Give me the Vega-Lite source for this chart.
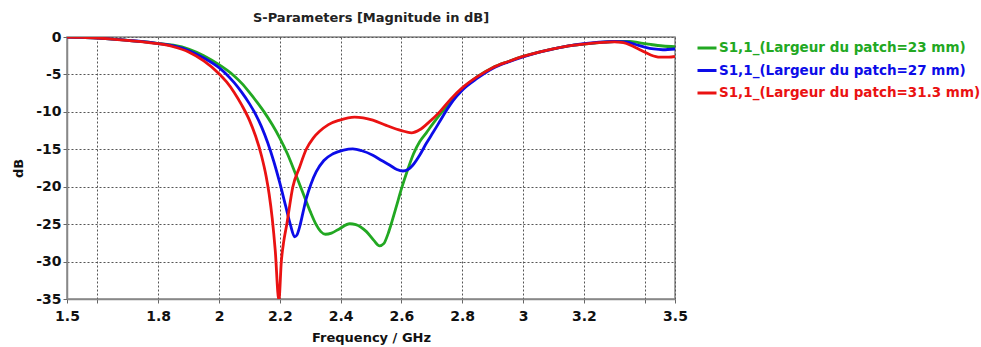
{
  "$schema": "https://vega.github.io/schema/vega-lite/v6.json",
  "autosize": {"type": "none"},
  "padding": {"left": 67, "top": 37, "right": 306, "bottom": 48},
  "width": 608,
  "height": 262,
  "background": "white",
  "title": {
    "text": "S-Parameters [Magnitude in dB]",
    "font": "DejaVu Sans",
    "fontSize": 13,
    "fontWeight": "bold",
    "color": "#222",
    "anchor": "middle",
    "offset": 5
  },
  "config": {
    "view": {"stroke": "#888", "strokeWidth": 1.5},
    "axis": {
      "labelFont": "DejaVu Sans",
      "labelFontSize": 14,
      "labelFontWeight": "bold",
      "labelColor": "#111",
      "titleFont": "DejaVu Sans",
      "titleFontSize": 13,
      "titleFontWeight": "bold",
      "titleColor": "#111",
      "grid": true,
      "gridColor": "#555",
      "gridDash": [2, 2],
      "gridWidth": 1,
      "domainColor": "#888",
      "domainWidth": 1.5,
      "tickColor": "#666",
      "tickSize": 4
    },
    "legend": {
      "labelFont": "DejaVu Sans",
      "labelFontSize": 13.5,
      "labelFontWeight": "bold"
    }
  },
  "data": {
    "values": [
      {"s": "S1,1_(Largeur du patch=23 mm)", "f": 1.5, "db": 0},
      {"s": "S1,1_(Largeur du patch=23 mm)", "f": 1.55, "db": -0.05},
      {"s": "S1,1_(Largeur du patch=23 mm)", "f": 1.6, "db": -0.15},
      {"s": "S1,1_(Largeur du patch=23 mm)", "f": 1.65, "db": -0.28},
      {"s": "S1,1_(Largeur du patch=23 mm)", "f": 1.7, "db": -0.45},
      {"s": "S1,1_(Largeur du patch=23 mm)", "f": 1.75, "db": -0.62},
      {"s": "S1,1_(Largeur du patch=23 mm)", "f": 1.8, "db": -0.85},
      {"s": "S1,1_(Largeur du patch=23 mm)", "f": 1.85, "db": -1.1},
      {"s": "S1,1_(Largeur du patch=23 mm)", "f": 1.9, "db": -1.6},
      {"s": "S1,1_(Largeur du patch=23 mm)", "f": 1.95, "db": -2.5},
      {"s": "S1,1_(Largeur du patch=23 mm)", "f": 2.0, "db": -3.7},
      {"s": "S1,1_(Largeur du patch=23 mm)", "f": 2.025, "db": -4.4},
      {"s": "S1,1_(Largeur du patch=23 mm)", "f": 2.05, "db": -5.2},
      {"s": "S1,1_(Largeur du patch=23 mm)", "f": 2.075, "db": -6.2},
      {"s": "S1,1_(Largeur du patch=23 mm)", "f": 2.1, "db": -7.4},
      {"s": "S1,1_(Largeur du patch=23 mm)", "f": 2.125, "db": -8.7},
      {"s": "S1,1_(Largeur du patch=23 mm)", "f": 2.15, "db": -10.1},
      {"s": "S1,1_(Largeur du patch=23 mm)", "f": 2.175, "db": -11.7},
      {"s": "S1,1_(Largeur du patch=23 mm)", "f": 2.2, "db": -13.5},
      {"s": "S1,1_(Largeur du patch=23 mm)", "f": 2.225, "db": -15.6},
      {"s": "S1,1_(Largeur du patch=23 mm)", "f": 2.25, "db": -18.1},
      {"s": "S1,1_(Largeur du patch=23 mm)", "f": 2.275, "db": -20.7},
      {"s": "S1,1_(Largeur du patch=23 mm)", "f": 2.3, "db": -23.3},
      {"s": "S1,1_(Largeur du patch=23 mm)", "f": 2.32, "db": -25.1},
      {"s": "S1,1_(Largeur du patch=23 mm)", "f": 2.335, "db": -26.0},
      {"s": "S1,1_(Largeur du patch=23 mm)", "f": 2.35, "db": -26.35},
      {"s": "S1,1_(Largeur du patch=23 mm)", "f": 2.37, "db": -26.2},
      {"s": "S1,1_(Largeur du patch=23 mm)", "f": 2.397, "db": -25.6},
      {"s": "S1,1_(Largeur du patch=23 mm)", "f": 2.43, "db": -24.95},
      {"s": "S1,1_(Largeur du patch=23 mm)", "f": 2.45, "db": -25.05},
      {"s": "S1,1_(Largeur du patch=23 mm)", "f": 2.485, "db": -26.0},
      {"s": "S1,1_(Largeur du patch=23 mm)", "f": 2.51, "db": -27.2},
      {"s": "S1,1_(Largeur du patch=23 mm)", "f": 2.528, "db": -27.9},
      {"s": "S1,1_(Largeur du patch=23 mm)", "f": 2.542, "db": -27.6},
      {"s": "S1,1_(Largeur du patch=23 mm)", "f": 2.556, "db": -26.3},
      {"s": "S1,1_(Largeur du patch=23 mm)", "f": 2.57, "db": -24.5},
      {"s": "S1,1_(Largeur du patch=23 mm)", "f": 2.583, "db": -22.7},
      {"s": "S1,1_(Largeur du patch=23 mm)", "f": 2.6, "db": -20.3},
      {"s": "S1,1_(Largeur du patch=23 mm)", "f": 2.62, "db": -17.8},
      {"s": "S1,1_(Largeur du patch=23 mm)", "f": 2.64, "db": -15.6},
      {"s": "S1,1_(Largeur du patch=23 mm)", "f": 2.66, "db": -14.0},
      {"s": "S1,1_(Largeur du patch=23 mm)", "f": 2.682, "db": -12.8},
      {"s": "S1,1_(Largeur du patch=23 mm)", "f": 2.705, "db": -11.5},
      {"s": "S1,1_(Largeur du patch=23 mm)", "f": 2.726, "db": -10.4},
      {"s": "S1,1_(Largeur du patch=23 mm)", "f": 2.758, "db": -8.9},
      {"s": "S1,1_(Largeur du patch=23 mm)", "f": 2.8, "db": -6.9},
      {"s": "S1,1_(Largeur du patch=23 mm)", "f": 2.85, "db": -5.3},
      {"s": "S1,1_(Largeur du patch=23 mm)", "f": 2.9, "db": -4.1},
      {"s": "S1,1_(Largeur du patch=23 mm)", "f": 2.95, "db": -3.3},
      {"s": "S1,1_(Largeur du patch=23 mm)", "f": 3.0, "db": -2.6},
      {"s": "S1,1_(Largeur du patch=23 mm)", "f": 3.05, "db": -2.05},
      {"s": "S1,1_(Largeur du patch=23 mm)", "f": 3.1, "db": -1.6},
      {"s": "S1,1_(Largeur du patch=23 mm)", "f": 3.15, "db": -1.2},
      {"s": "S1,1_(Largeur du patch=23 mm)", "f": 3.2, "db": -0.95},
      {"s": "S1,1_(Largeur du patch=23 mm)", "f": 3.25, "db": -0.75},
      {"s": "S1,1_(Largeur du patch=23 mm)", "f": 3.3, "db": -0.6},
      {"s": "S1,1_(Largeur du patch=23 mm)", "f": 3.35, "db": -0.6},
      {"s": "S1,1_(Largeur du patch=23 mm)", "f": 3.38, "db": -0.75},
      {"s": "S1,1_(Largeur du patch=23 mm)", "f": 3.42, "db": -1.0},
      {"s": "S1,1_(Largeur du patch=23 mm)", "f": 3.46, "db": -1.2},
      {"s": "S1,1_(Largeur du patch=23 mm)", "f": 3.5, "db": -1.3},

      {"s": "S1,1_(Largeur du patch=27 mm)", "f": 1.5, "db": 0},
      {"s": "S1,1_(Largeur du patch=27 mm)", "f": 1.55, "db": -0.05},
      {"s": "S1,1_(Largeur du patch=27 mm)", "f": 1.6, "db": -0.15},
      {"s": "S1,1_(Largeur du patch=27 mm)", "f": 1.65, "db": -0.28},
      {"s": "S1,1_(Largeur du patch=27 mm)", "f": 1.7, "db": -0.45},
      {"s": "S1,1_(Largeur du patch=27 mm)", "f": 1.75, "db": -0.62},
      {"s": "S1,1_(Largeur du patch=27 mm)", "f": 1.8, "db": -0.87},
      {"s": "S1,1_(Largeur du patch=27 mm)", "f": 1.85, "db": -1.2},
      {"s": "S1,1_(Largeur du patch=27 mm)", "f": 1.9, "db": -1.8},
      {"s": "S1,1_(Largeur du patch=27 mm)", "f": 1.95, "db": -2.8},
      {"s": "S1,1_(Largeur du patch=27 mm)", "f": 2.0, "db": -4.1},
      {"s": "S1,1_(Largeur du patch=27 mm)", "f": 2.025, "db": -5.0},
      {"s": "S1,1_(Largeur du patch=27 mm)", "f": 2.05, "db": -6.1},
      {"s": "S1,1_(Largeur du patch=27 mm)", "f": 2.075, "db": -7.4},
      {"s": "S1,1_(Largeur du patch=27 mm)", "f": 2.1, "db": -8.9},
      {"s": "S1,1_(Largeur du patch=27 mm)", "f": 2.12, "db": -10.3},
      {"s": "S1,1_(Largeur du patch=27 mm)", "f": 2.14, "db": -12.0},
      {"s": "S1,1_(Largeur du patch=27 mm)", "f": 2.16, "db": -14.1},
      {"s": "S1,1_(Largeur du patch=27 mm)", "f": 2.18, "db": -16.6},
      {"s": "S1,1_(Largeur du patch=27 mm)", "f": 2.2, "db": -19.5},
      {"s": "S1,1_(Largeur du patch=27 mm)", "f": 2.22, "db": -22.7},
      {"s": "S1,1_(Largeur du patch=27 mm)", "f": 2.235, "db": -25.1},
      {"s": "S1,1_(Largeur du patch=27 mm)", "f": 2.249, "db": -26.7},
      {"s": "S1,1_(Largeur du patch=27 mm)", "f": 2.257, "db": -26.4},
      {"s": "S1,1_(Largeur du patch=27 mm)", "f": 2.265, "db": -25.4},
      {"s": "S1,1_(Largeur du patch=27 mm)", "f": 2.276, "db": -23.5},
      {"s": "S1,1_(Largeur du patch=27 mm)", "f": 2.287, "db": -21.6},
      {"s": "S1,1_(Largeur du patch=27 mm)", "f": 2.303, "db": -19.6},
      {"s": "S1,1_(Largeur du patch=27 mm)", "f": 2.32, "db": -18.0},
      {"s": "S1,1_(Largeur du patch=27 mm)", "f": 2.345, "db": -16.5},
      {"s": "S1,1_(Largeur du patch=27 mm)", "f": 2.375, "db": -15.6},
      {"s": "S1,1_(Largeur du patch=27 mm)", "f": 2.41, "db": -15.1},
      {"s": "S1,1_(Largeur du patch=27 mm)", "f": 2.44, "db": -14.95},
      {"s": "S1,1_(Largeur du patch=27 mm)", "f": 2.47, "db": -15.2},
      {"s": "S1,1_(Largeur du patch=27 mm)", "f": 2.506, "db": -15.8},
      {"s": "S1,1_(Largeur du patch=27 mm)", "f": 2.535, "db": -16.5},
      {"s": "S1,1_(Largeur du patch=27 mm)", "f": 2.561, "db": -17.1},
      {"s": "S1,1_(Largeur du patch=27 mm)", "f": 2.585, "db": -17.7},
      {"s": "S1,1_(Largeur du patch=27 mm)", "f": 2.605, "db": -17.9},
      {"s": "S1,1_(Largeur du patch=27 mm)", "f": 2.622, "db": -17.7},
      {"s": "S1,1_(Largeur du patch=27 mm)", "f": 2.638, "db": -17.1},
      {"s": "S1,1_(Largeur du patch=27 mm)", "f": 2.66, "db": -15.8},
      {"s": "S1,1_(Largeur du patch=27 mm)", "f": 2.682, "db": -14.2},
      {"s": "S1,1_(Largeur du patch=27 mm)", "f": 2.705, "db": -12.7},
      {"s": "S1,1_(Largeur du patch=27 mm)", "f": 2.726, "db": -11.3},
      {"s": "S1,1_(Largeur du patch=27 mm)", "f": 2.75, "db": -9.7},
      {"s": "S1,1_(Largeur du patch=27 mm)", "f": 2.77, "db": -8.5},
      {"s": "S1,1_(Largeur du patch=27 mm)", "f": 2.8, "db": -7.1},
      {"s": "S1,1_(Largeur du patch=27 mm)", "f": 2.85, "db": -5.5},
      {"s": "S1,1_(Largeur du patch=27 mm)", "f": 2.9, "db": -4.2},
      {"s": "S1,1_(Largeur du patch=27 mm)", "f": 2.95, "db": -3.35},
      {"s": "S1,1_(Largeur du patch=27 mm)", "f": 3.0, "db": -2.65},
      {"s": "S1,1_(Largeur du patch=27 mm)", "f": 3.05, "db": -2.05},
      {"s": "S1,1_(Largeur du patch=27 mm)", "f": 3.1, "db": -1.6},
      {"s": "S1,1_(Largeur du patch=27 mm)", "f": 3.15, "db": -1.2},
      {"s": "S1,1_(Largeur du patch=27 mm)", "f": 3.2, "db": -0.9},
      {"s": "S1,1_(Largeur du patch=27 mm)", "f": 3.25, "db": -0.7},
      {"s": "S1,1_(Largeur du patch=27 mm)", "f": 3.3, "db": -0.6},
      {"s": "S1,1_(Largeur du patch=27 mm)", "f": 3.34, "db": -0.65},
      {"s": "S1,1_(Largeur du patch=27 mm)", "f": 3.37, "db": -1.0},
      {"s": "S1,1_(Largeur du patch=27 mm)", "f": 3.4, "db": -1.35},
      {"s": "S1,1_(Largeur du patch=27 mm)", "f": 3.43, "db": -1.6},
      {"s": "S1,1_(Largeur du patch=27 mm)", "f": 3.46, "db": -1.7},
      {"s": "S1,1_(Largeur du patch=27 mm)", "f": 3.5, "db": -1.6},

      {"s": "S1,1_(Largeur du patch=31.3 mm)", "f": 1.5, "db": 0},
      {"s": "S1,1_(Largeur du patch=31.3 mm)", "f": 1.55, "db": -0.05},
      {"s": "S1,1_(Largeur du patch=31.3 mm)", "f": 1.6, "db": -0.15},
      {"s": "S1,1_(Largeur du patch=31.3 mm)", "f": 1.65, "db": -0.28},
      {"s": "S1,1_(Largeur du patch=31.3 mm)", "f": 1.7, "db": -0.46},
      {"s": "S1,1_(Largeur du patch=31.3 mm)", "f": 1.75, "db": -0.65},
      {"s": "S1,1_(Largeur du patch=31.3 mm)", "f": 1.8, "db": -0.9},
      {"s": "S1,1_(Largeur du patch=31.3 mm)", "f": 1.85, "db": -1.3},
      {"s": "S1,1_(Largeur du patch=31.3 mm)", "f": 1.9, "db": -2.0},
      {"s": "S1,1_(Largeur du patch=31.3 mm)", "f": 1.95, "db": -3.2},
      {"s": "S1,1_(Largeur du patch=31.3 mm)", "f": 2.0, "db": -4.9},
      {"s": "S1,1_(Largeur du patch=31.3 mm)", "f": 2.025, "db": -6.0},
      {"s": "S1,1_(Largeur du patch=31.3 mm)", "f": 2.05, "db": -7.4},
      {"s": "S1,1_(Largeur du patch=31.3 mm)", "f": 2.075, "db": -9.1},
      {"s": "S1,1_(Largeur du patch=31.3 mm)", "f": 2.1, "db": -11.1},
      {"s": "S1,1_(Largeur du patch=31.3 mm)", "f": 2.12, "db": -13.2},
      {"s": "S1,1_(Largeur du patch=31.3 mm)", "f": 2.14, "db": -15.9},
      {"s": "S1,1_(Largeur du patch=31.3 mm)", "f": 2.155, "db": -18.6},
      {"s": "S1,1_(Largeur du patch=31.3 mm)", "f": 2.165, "db": -21.0},
      {"s": "S1,1_(Largeur du patch=31.3 mm)", "f": 2.175, "db": -24.2},
      {"s": "S1,1_(Largeur du patch=31.3 mm)", "f": 2.185, "db": -28.5},
      {"s": "S1,1_(Largeur du patch=31.3 mm)", "f": 2.197, "db": -35.2},
      {"s": "S1,1_(Largeur du patch=31.3 mm)", "f": 2.205, "db": -30},
      {"s": "S1,1_(Largeur du patch=31.3 mm)", "f": 2.213, "db": -27.3},
      {"s": "S1,1_(Largeur du patch=31.3 mm)", "f": 2.223, "db": -25},
      {"s": "S1,1_(Largeur du patch=31.3 mm)", "f": 2.243, "db": -20},
      {"s": "S1,1_(Largeur du patch=31.3 mm)", "f": 2.265, "db": -17.4},
      {"s": "S1,1_(Largeur du patch=31.3 mm)", "f": 2.287, "db": -15},
      {"s": "S1,1_(Largeur du patch=31.3 mm)", "f": 2.31, "db": -13.5},
      {"s": "S1,1_(Largeur du patch=31.3 mm)", "f": 2.331, "db": -12.6},
      {"s": "S1,1_(Largeur du patch=31.3 mm)", "f": 2.36, "db": -11.7},
      {"s": "S1,1_(Largeur du patch=31.3 mm)", "f": 2.397, "db": -11.1},
      {"s": "S1,1_(Largeur du patch=31.3 mm)", "f": 2.446, "db": -10.7},
      {"s": "S1,1_(Largeur du patch=31.3 mm)", "f": 2.506, "db": -11.1},
      {"s": "S1,1_(Largeur du patch=31.3 mm)", "f": 2.55, "db": -11.8},
      {"s": "S1,1_(Largeur du patch=31.3 mm)", "f": 2.6, "db": -12.5},
      {"s": "S1,1_(Largeur du patch=31.3 mm)", "f": 2.633, "db": -12.8},
      {"s": "S1,1_(Largeur du patch=31.3 mm)", "f": 2.66, "db": -12.4},
      {"s": "S1,1_(Largeur du patch=31.3 mm)", "f": 2.69, "db": -11.4},
      {"s": "S1,1_(Largeur du patch=31.3 mm)", "f": 2.726, "db": -10.0},
      {"s": "S1,1_(Largeur du patch=31.3 mm)", "f": 2.76, "db": -8.4},
      {"s": "S1,1_(Largeur du patch=31.3 mm)", "f": 2.8, "db": -6.8},
      {"s": "S1,1_(Largeur du patch=31.3 mm)", "f": 2.85, "db": -5.3},
      {"s": "S1,1_(Largeur du patch=31.3 mm)", "f": 2.9, "db": -4.1},
      {"s": "S1,1_(Largeur du patch=31.3 mm)", "f": 2.95, "db": -3.3},
      {"s": "S1,1_(Largeur du patch=31.3 mm)", "f": 3.0, "db": -2.6},
      {"s": "S1,1_(Largeur du patch=31.3 mm)", "f": 3.05, "db": -2.05},
      {"s": "S1,1_(Largeur du patch=31.3 mm)", "f": 3.1, "db": -1.6},
      {"s": "S1,1_(Largeur du patch=31.3 mm)", "f": 3.15, "db": -1.2},
      {"s": "S1,1_(Largeur du patch=31.3 mm)", "f": 3.2, "db": -0.95},
      {"s": "S1,1_(Largeur du patch=31.3 mm)", "f": 3.25, "db": -0.75},
      {"s": "S1,1_(Largeur du patch=31.3 mm)", "f": 3.3, "db": -0.65},
      {"s": "S1,1_(Largeur du patch=31.3 mm)", "f": 3.33, "db": -0.75},
      {"s": "S1,1_(Largeur du patch=31.3 mm)", "f": 3.36, "db": -1.2},
      {"s": "S1,1_(Largeur du patch=31.3 mm)", "f": 3.39, "db": -1.8},
      {"s": "S1,1_(Largeur du patch=31.3 mm)", "f": 3.42, "db": -2.4},
      {"s": "S1,1_(Largeur du patch=31.3 mm)", "f": 3.45, "db": -2.7},
      {"s": "S1,1_(Largeur du patch=31.3 mm)", "f": 3.48, "db": -2.7},
      {"s": "S1,1_(Largeur du patch=31.3 mm)", "f": 3.5, "db": -2.6}
    ]
  },
  "mark": {"type": "line", "strokeWidth": 2.8, "interpolate": "monotone", "clip": true},
  "encoding": {
    "x": {
      "field": "f",
      "type": "quantitative",
      "scale": {"domain": [1.5, 3.5], "nice": false, "zero": false},
      "axis": {
        "title": "Frequency / GHz",
        "values": [1.5, 1.6, 1.8, 2, 2.2, 2.4, 2.6, 2.8, 3, 3.2, 3.4, 3.5],
        "format": "~g",
        "labelExpr": "datum.value == 1.6 || datum.value == 3.4 ? '' : datum.label",
        "labelPadding": 6,
        "titlePadding": 8,
        "labelFlush": false,
        "labelOverlap": false
      }
    },
    "y": {
      "field": "db",
      "type": "quantitative",
      "scale": {"domain": [-35, 0], "nice": false, "zero": false},
      "axis": {
        "title": "dB",
        "values": [0, -5, -10, -15, -20, -25, -30, -35],
        "labelExpr": "replace(format(datum.value, 'd'), '\u2212', '-')",
        "labelPadding": 2,
        "titlePadding": 10,
        "labelFlush": false,
        "labelOverlap": false
      }
    },
    "color": {
      "field": "s",
      "type": "nominal",
      "scale": {
        "domain": ["S1,1_(Largeur du patch=23 mm)", "S1,1_(Largeur du patch=27 mm)", "S1,1_(Largeur du patch=31.3 mm)"],
        "range": ["#22a822", "#0c0ce8", "#ea1212"]
      },
      "legend": {
        "title": null,
        "orient": "right",
        "offset": 21,
        "padding": 0,
        "symbolType": "stroke",
        "symbolSize": 361,
        "symbolStrokeWidth": 3,
        "labelOffset": 1,
        "rowPadding": 4.5,
        "labelLimit": 400,
        "labelColor": {"expr": "indexof(datum.label, '=23') >= 0 ? '#22a822' : indexof(datum.label, '=27') >= 0 ? '#0c0ce8' : '#ea1212'"}
      }
    }
  }
}
